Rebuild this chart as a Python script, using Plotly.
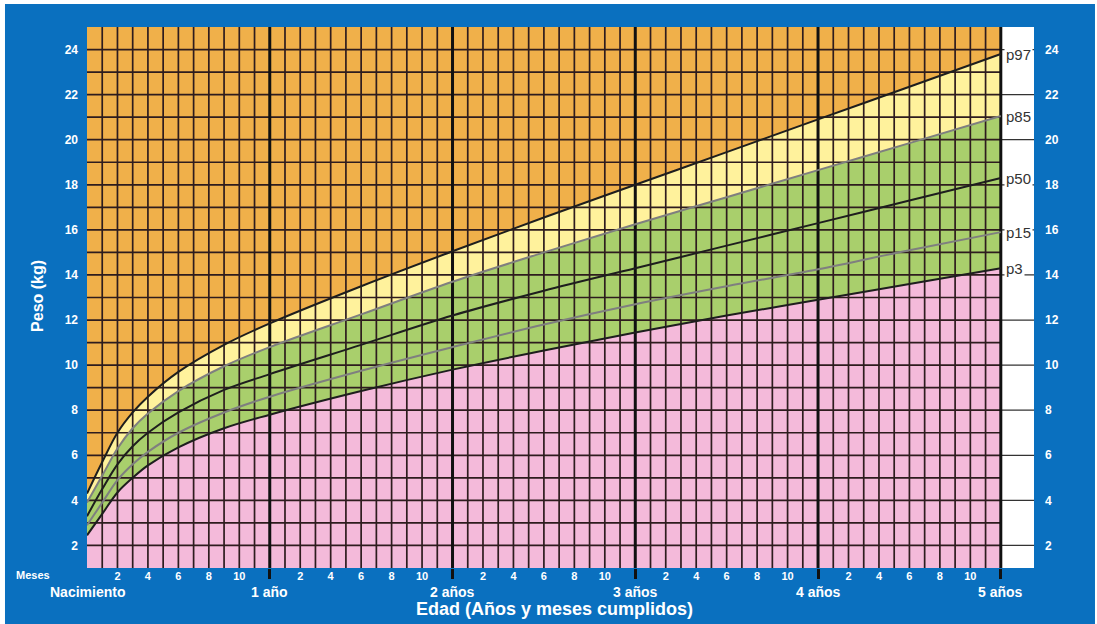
import plotly.graph_objects as go

# ---- data (weight-for-age percentiles) ----
months = [0, 1, 2, 3, 4, 6, 9, 12, 18, 24, 30, 36, 42, 48, 54, 60]
p3 = [2.45, 3.4, 4.35, 5.0, 5.55, 6.35, 7.2, 7.8, 8.85, 9.8, 10.65, 11.45, 12.2, 12.9, 13.6, 14.3]
p15 = [2.9, 3.9, 4.9, 5.6, 6.15, 7.0, 7.9, 8.6, 9.75, 10.8, 11.8, 12.7, 13.5, 14.25, 15.1, 15.9]
p50 = [3.3, 4.5, 5.6, 6.4, 7.0, 7.9, 8.9, 9.6, 10.9, 12.2, 13.3, 14.3, 15.3, 16.3, 17.3, 18.3]
p85 = [3.9, 5.1, 6.3, 7.2, 7.85, 8.85, 9.95, 10.8, 12.25, 13.7, 15.0, 16.25, 17.45, 18.65, 19.85, 21.05]
p97 = [4.3, 5.7, 7.0, 7.9, 8.6, 9.7, 10.9, 11.85, 13.5, 15.05, 16.55, 18.0, 19.45, 20.9, 22.35, 23.8]

percentile_labels = ["p97", "p85", "p50", "p15", "p3"]
year_labels = ["Nacimiento", "1 año", "2 años", "3 años", "4 años", "5 años"]
year_months = [0, 12, 24, 36, 48, 60]
month_ticks = [m for m in range(2, 60, 2) if m % 12]
month_ticktext = [str(m % 12) for m in month_ticks]
kg_ticks = list(range(2, 25, 2))

# ---- styling ----
BLUE = "#0A70BF"
ORANGE = "#F0B04A"
YELLOW = "#FFF29C"
GREEN = "#A9CF6C"
PINK = "#F4BADA"
GRID = "#2E1C1E"
FONT = "Arial, Liberation Sans, sans-serif"
Y_MIN, Y_MAX = 1, 25
X_END = 60
X_MAX = 62.18

fig = go.Figure()

# white strip on the right
fig.add_trace(go.Scatter(x=[X_END, X_MAX, X_MAX, X_END, X_END], y=[Y_MIN, Y_MIN, Y_MAX, Y_MAX, Y_MIN],
                         fill="toself", fillcolor="white", line=dict(width=0), mode="lines",
                         hoverinfo="skip", showlegend=False))

# fills
fig.add_trace(go.Scatter(x=months, y=p3, fill="tozeroy", fillcolor=PINK, mode="lines",
                         line=dict(width=0, shape="spline"), hoverinfo="skip", showlegend=False))
fig.add_trace(go.Scatter(x=months, y=p85, fill="tonexty", fillcolor=GREEN, mode="lines",
                         line=dict(width=0, shape="spline"), hoverinfo="skip", showlegend=False))
fig.add_trace(go.Scatter(x=months, y=p97, fill="tonexty", fillcolor=YELLOW, mode="lines",
                         line=dict(width=0, shape="spline"), hoverinfo="skip", showlegend=False))
fig.add_trace(go.Scatter(x=months, y=[Y_MAX] * len(months), fill="tonexty", fillcolor=ORANGE, mode="lines",
                         line=dict(width=0), hoverinfo="skip", showlegend=False))

# grid (drawn above fills)
gx, gy = [], []
for m in range(1, X_END):
    if m % 12:
        gx += [m, m, None]
        gy += [Y_MIN, Y_MAX, None]
for k in range(Y_MIN + 1, Y_MAX):
    gx += [0, X_END, None]
    gy += [k, k, None]
fig.add_trace(go.Scatter(x=gx, y=gy, mode="lines", line=dict(color=GRID, width=1.7),
                         hoverinfo="skip", showlegend=False))

# strip lines
sx, sy = [], []
for k in kg_ticks:
    sx += [X_END, X_MAX, None]
    sy += [k, k, None]
fig.add_trace(go.Scatter(x=sx, y=sy, mode="lines", line=dict(color="#333333", width=1.2),
                         hoverinfo="skip", showlegend=False))

# year lines
yx, yy = [], []
for m in year_months[1:]:
    yx += [m, m, None]
    yy += [Y_MIN, Y_MAX, None]
fig.add_trace(go.Scatter(x=yx, y=yy, mode="lines", line=dict(color="#111111", width=3),
                         hoverinfo="skip", showlegend=False))

# percentile curves
curves = [(p3, "#1E1E1E"), (p15, "#7F7F7F"), (p50, "#1E1E1E"), (p85, "#7F7F7F"), (p97, "#1E1E1E")]
for vals, col in curves:
    fig.add_trace(go.Scatter(x=months, y=vals, mode="lines", line=dict(color=col, width=2, shape="spline"),
                             hoverinfo="skip", showlegend=False))

# dummy trace for right axis
fig.add_trace(go.Scatter(x=[X_END], y=[Y_MIN], yaxis="y2", mode="markers", marker=dict(opacity=0),
                         hoverinfo="skip", showlegend=False))

# percentile labels
for lab, vals in zip(percentile_labels, [p97, p85, p50, p15, p3]):
    fig.add_annotation(x=X_END, y=vals[-1], xref="x", yref="y", text=lab, showarrow=False,
                       xanchor="left", yanchor="middle", xshift=3, bgcolor="white", borderpad=1,
                       font=dict(family=FONT, size=15, color="#333333"))

# year labels
for lab, m in zip(year_labels, year_months):
    fig.add_annotation(x=m, y=0, xref="x", yref="paper", text=f"<b>{lab}</b>", showarrow=False,
                       xanchor="center", yanchor="middle", yshift=-24,
                       font=dict(family=FONT, size=14, color="white"))

fig.add_annotation(x=-0.057, y=0, xref="paper", yref="paper", text="<b>Meses</b>", showarrow=False,
                   xanchor="center", yanchor="middle", yshift=-7,
                   font=dict(family=FONT, size=11, color="white"))
fig.add_annotation(x=0.494, y=0, xref="paper", yref="paper", text="<b>Edad (Años y meses cumplidos)</b>",
                   showarrow=False, xanchor="center", yanchor="middle", yshift=-41,
                   font=dict(family=FONT, size=18, color="white"))
fig.add_annotation(x=-0.0517, y=0.503, xref="paper", yref="paper", text="<b>Peso (kg)</b>", textangle=-90,
                   showarrow=False, xanchor="center", yanchor="middle",
                   font=dict(family=FONT, size=16, color="white"))

# blue frame
fig.add_shape(type="rect", xref="paper", yref="paper", x0=-0.0866, x1=1.0644, y0=-0.2, y1=1.0425,
              fillcolor=BLUE, line=dict(width=0), layer="below")

fig.update_layout(
    width=1097, height=624,
    margin=dict(l=87, r=63, t=27, b=56),
    paper_bgcolor="white", plot_bgcolor=BLUE,
    showlegend=False,
    xaxis=dict(range=[0, X_MAX], showgrid=False, zeroline=False, showline=False,
               tickmode="array", tickvals=month_ticks, ticktext=month_ticktext, ticks="",
               tickfont=dict(family=FONT, size=11, color="white", weight="bold"),
               minor=dict(tickmode="array", tickvals=year_months[1:], ticks="outside", ticklen=10,
                          tickwidth=3, tickcolor="#111111", showgrid=False)),
    yaxis=dict(range=[Y_MIN, Y_MAX], showgrid=False, zeroline=False, showline=False,
               tickmode="array", tickvals=kg_ticks, ticks="", ticklabelstandoff=8,
               tickfont=dict(family=FONT, size=12, color="white", weight="bold")),
    yaxis2=dict(range=[Y_MIN, Y_MAX], overlaying="y", side="right", showgrid=False, zeroline=False,
                showline=False, tickmode="array", tickvals=kg_ticks, ticks="", ticklabelstandoff=10,
                tickfont=dict(family=FONT, size=12, color="white", weight="bold")),
)

fig.write_html("out.html", config={"displayModeBar": False},
               post_script="document.body.style.margin='0';document.body.style.overflow='hidden';")
